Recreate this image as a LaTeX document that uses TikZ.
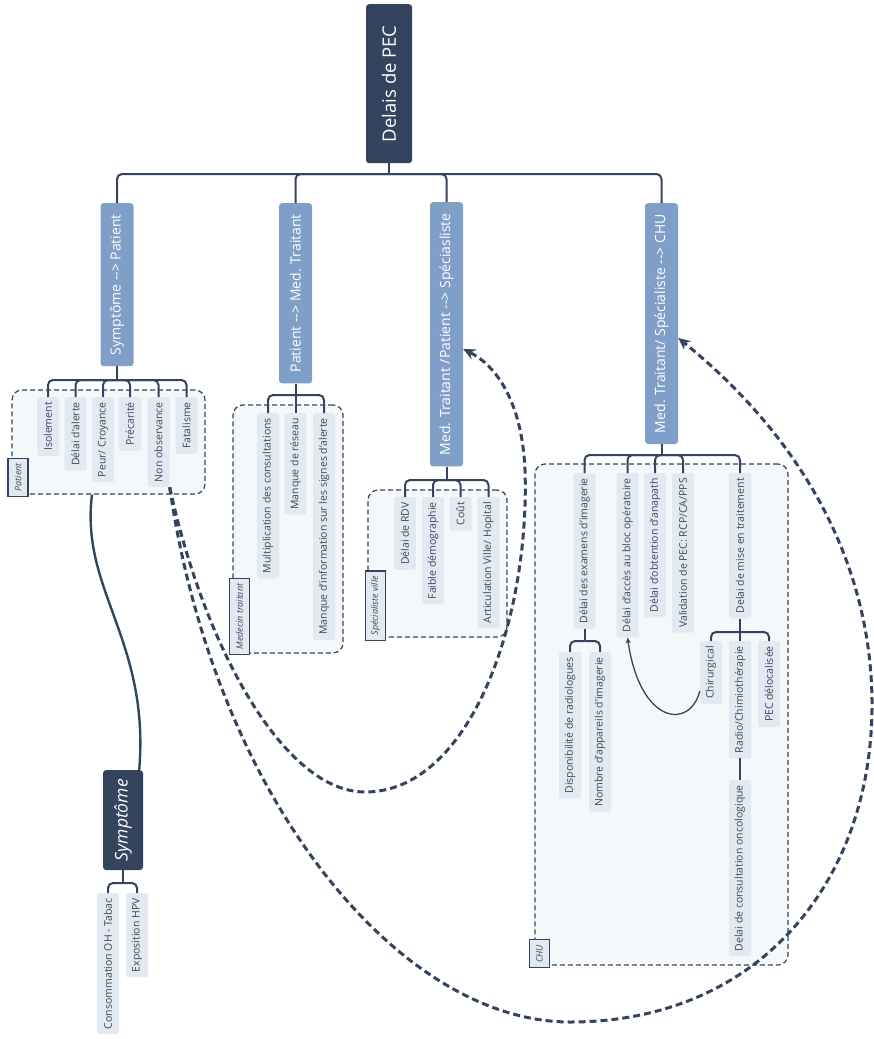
\documentclass[tikz,border=0pt]{standalone}
\usepackage{fontspec}
\setmainfont{Open Sans}
\usetikzlibrary{arrows.meta,fit}

\definecolor{pecnavy}{HTML}{34435E}
\definecolor{pecblue}{HTML}{809FC8}
\definecolor{pecleaf}{HTML}{E3E9F1}
\definecolor{pectext}{HTML}{3E4858}
\definecolor{pecgroup}{HTML}{F5F8FB}

\tikzset{
  rootbox/.style={rotate=90, anchor=east, fill=pecnavy, text=white, rounded corners=3pt, inner sep=0pt},
  topic/.style={rotate=90, anchor=east, fill=pecblue, text=white, rounded corners=3pt,
    font=\fontsize{14}{16}\selectfont, minimum height=33pt, inner xsep=11pt, inner ysep=0pt},
  leaf/.style={rotate=90, anchor=east, fill=pecleaf, text=pectext, rounded corners=2pt,
    font=\fontsize{10.5}{12}\selectfont, minimum height=22pt, inner xsep=5pt, inner ysep=0pt},
  grp/.style={draw=pecnavy, fill=pecgroup, line width=1.2pt, dash pattern=on 5pt off 3pt,
    rounded corners=10pt, inner sep=0pt},
  grplabel/.style={rotate=90, anchor=west, draw=pecnavy, fill=pecleaf, text=pectext, line width=1.2pt,
    font=\fontsize{9}{10}\selectfont\itshape, minimum height=20pt, inner xsep=5pt, inner ysep=0pt},
  link/.style={draw=pecnavy, line width=2pt, rounded corners=5pt},
  jump/.style={draw=pecnavy, line width=3pt, dash pattern=on 7pt off 4pt,
    -{Stealth[length=12pt,width=11pt]}}
}

\begin{document}
\begin{tikzpicture}[x=1pt, y=-1pt]
\useasboundingbox (0,0) rectangle (874,1039);

% Groups
\node[grp, fit={(12,390) (205,494)}] (gpat) {};
\node[grp, fit={(233,405) (343,653)}] (gmed) {};
\node[grp, fit={(368,490) (507,637)}] (gspe) {};
\node[grp, fit={(535,464) (788,965)}] (gchu) {};

% Root and topics
\node[rootbox, minimum width=159pt, minimum height=46pt, font=\fontsize{18.5}{20}\selectfont] (root) at (389,4) {Delais de PEC};
\node[topic] (pat) at (117,203) {Symptôme -{}-> Patient};
\node[topic] (med) at (295.5,203) {Patient -{}-> Med. Traitant};
\node[topic] (spe) at (446.5,202) {Med. Traitant /Patient -{}-> Spéciasliste};
\node[topic] (chu) at (661.5,203) {Med. Traitant/ Spécialiste -{}-> CHU};

% Patient
\node[leaf] (iso) at (48,397) {Isolement};
\node[leaf] (alerte) at (75.5,397) {Délai d'alerte};
\node[leaf] (peur) at (103,397) {Peur/ Croyance};
\node[leaf] (prec) at (130,397) {Précarité};
\node[leaf] (nonobs) at (158.5,397) {Non observance};
\node[leaf] (fatal) at (186.5,397) {Fatalisme};

% Medecin traitant
\node[leaf] (multi) at (268,413) {Multiplication des consultations};
\node[leaf] (reseau) at (295.5,413) {Manque de réseau};
\node[leaf] (info) at (324,413) {Manque d'information sur les signes d'alerte};

% Specialiste ville
\node[leaf] (rdv) at (405,497) {Délai de RDV};
\node[leaf] (demo) at (433,497) {Faible démographie};
\node[leaf] (cout) at (460.5,497) {Coût};
\node[leaf] (artic) at (488.5,497) {Articulation Ville/ Hopital};

% CHU
\node[leaf] (imag) at (584.5,473) {Délai des examens d'imagerie};
\node[leaf] (bloc) at (627.5,473) {Délai d'accès au bloc opératoire};
\node[leaf] (anap) at (655,473) {Délai d'obtention d'anapath};
\node[leaf] (valid) at (683,473) {Validation de PEC: RCP/CA/PPS};
\node[leaf] (mise) at (740,473) {Delai de mise en traitement};
\node[leaf] (radiol) at (570,652) {Disponibilité de radiologues};
\node[leaf] (appar) at (600,652) {Nombre d'appareils d'imagerie};
\node[leaf] (chir) at (711,641) {Chirurgical};
\node[leaf] (radio) at (740,641) {Radio/Chimiothérapie};
\node[leaf] (delo) at (769,641) {PEC délocalisée};
\node[leaf] (onco) at (740,780) {Delai de consultation oncologique};

% Symptome
\node[rootbox, minimum height=40pt, inner xsep=9pt, font=\fontsize{17.5}{19}\selectfont\itshape] (sym) at (123,770) {Symptôme};
\node[leaf] (conso) at (108,893) {Consommation OH - Tabac};
\node[leaf] (hpv) at (137,893) {Exposition HPV};

% Group labels
\node[grplabel] (lpat) at (18,497) {Patient};
\node[grplabel] (lmed) at (239.5,655) {Medecin traitant};
\node[grplabel] (lspe) at (375.5,641) {Spécialiste ville};
\node[grplabel] (lchu) at (539.5,968) {CHU};

% Tree links
\coordinate (broot) at (389,174);
\draw[link] (root.west) -- (broot);
\draw[link] (broot) -| (pat.east);
\draw[link] (broot) -| (med.east);
\draw[link] (broot) -| (spe.east);
\draw[link] (broot) -| (chu.east);

\coordinate (bpat) at (117,380);
\draw[link] (pat.west) -- (bpat);
\draw[link] (bpat) -| (iso.east);
\draw[link] (bpat) -| (alerte.east);
\draw[link] (bpat) -| (peur.east);
\draw[link] (bpat) -| (prec.east);
\draw[link] (bpat) -| (nonobs.east);
\draw[link] (bpat) -| (fatal.east);

\coordinate (bmed) at (295.5,395);
\draw[link] (med.west) -- (bmed);
\draw[link] (bmed) -| (multi.east);
\draw[link] (bmed) -| (reseau.east);
\draw[link] (bmed) -| (info.east);

\coordinate (bspe) at (446.5,480);
\draw[link] (spe.west) -- (bspe);
\draw[link] (bspe) -| (rdv.east);
\draw[link] (bspe) -| (demo.east);
\draw[link] (bspe) -| (cout.east);
\draw[link] (bspe) -| (artic.east);

\coordinate (bchu) at (661.5,455);
\draw[link] (chu.west) -- (bchu);
\draw[link] (bchu) -| (imag.east);
\draw[link] (bchu) -| (bloc.east);
\draw[link] (bchu) -| (anap.east);
\draw[link] (bchu) -| (valid.east);
\draw[link] (bchu) -| (mise.east);

\coordinate (bimag) at (584.5,641);
\draw[link] (imag.west) -- (bimag);
\draw[link] (bimag) -| (radiol.east);
\draw[link] (bimag) -| (appar.east);

\coordinate (bmise) at (740,632);
\draw[link] (mise.west) -- (bmise);
\draw[link] (bmise) -| (chir.east);
\draw[link] (bmise) -| (radio.east);
\draw[link] (bmise) -| (delo.east);
\draw[link] (radio.west) -- (onco.east);

\coordinate (bsym) at (123,883);
\draw[link] (sym.west) -- (bsym);
\draw[link] (bsym) -| (conso.east);
\draw[link] (bsym) -| (hpv.east);

% Cross links
\draw[link, line width=2.4pt] ([xshift=-16.5pt]gpat.south) .. controls (80,590) and (150,640) .. ([xshift=-4pt]sym.south east);
\draw[draw=pecnavy, line width=1.3pt, -{Stealth[length=6pt,width=5pt]}] ([yshift=13pt]chir.north west) .. controls (690,730) and (640,725) .. (bloc.west);
\draw[jump] (nonobs.south west) .. controls (205,650) and (285,792) .. (365,792)
  .. controls (470,792) and (530,620) .. (525,470)
  .. controls (522,400) and (495,365) .. (spe.south |- 0,349);
\draw[jump] (nonobs.south west) .. controls (215,800) and (400,1022) .. (570,1022)
  .. controls (760,1022) and (874,880) .. (872,700)
  .. controls (870,540) and (780,420) .. (chu.south |- 0,338);
\end{tikzpicture}
\end{document}
